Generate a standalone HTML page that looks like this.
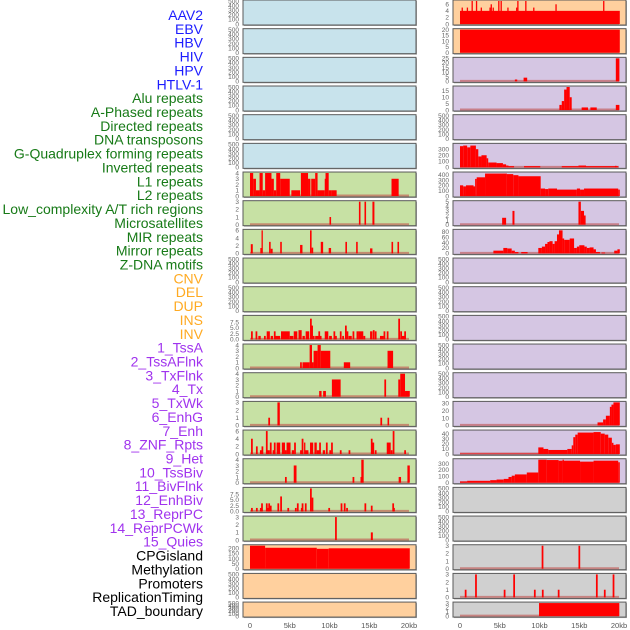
<!DOCTYPE html>
<html><head><meta charset="utf-8">
<style>
html,body{margin:0;padding:0;background:#fff;}
svg{display:block;font-family:"Liberation Sans",sans-serif;}
</style></head>
<body>
<svg id="chart" width="630" height="630" viewBox="0 0 630 630" xmlns="http://www.w3.org/2000/svg"></svg>
<script>
const rowLabels = ["AAV2","EBV","HBV","HIV","HPV","HTLV-1","Alu repeats","A-Phased repeats","Directed repeats","DNA transposons","G-Quadruplex forming repeats","Inverted repeats","L1 repeats","L2 repeats","Low_complexity A/T rich regions","Microsatellites","MIR repeats","Mirror repeats","Z-DNA motifs","CNV","DEL","DUP","INS","INV","1_TssA","2_TssAFlnk","3_TxFlnk","4_Tx","5_TxWk","6_EnhG","7_Enh","8_ZNF_Rpts","9_Het","10_TssBiv","11_BivFlnk","12_EnhBiv","13_ReprPC","14_ReprPCWk","15_Quies","CPGisland","Methylation","Promoters","ReplicationTiming","TAD_boundary"];
const labelGroups = ["v","v","v","v","v","v","r","r","r","r","r","r","r","r","r","r","r","r","r","s","s","s","s","s","c","c","c","c","c","c","c","c","c","c","c","c","c","c","c","k","k","k","k","k"];
const xTickValues = [0,5,10,15,20];
const xTickLabels = ["0","5kb","10kb","15kb","20kb"];
const leftBg = ["b","b","b","b","b","b","g","g","g","g","g","g","g","g","g","g","g","g","g","o","o","o"];
const rightBg = ["o","o","p","p","p","p","p","p","p","p","p","p","p","p","p","p","p","y","y","y","y","y"];
const E = [];
const leftSeries = [E,E,E,E,E,E,
 [[0,0.4,4],[0.4,0.75,3],[0.75,1.2,1],[1.2,1.6,4],[1.6,1.9,1],[1.9,2.7,4],[2.7,3.0,3],[3.0,3.3,1],[3.3,3.8,4],[3.8,5.0,3],[5.2,6.3,1],[6.4,7.3,4],[7.3,7.6,3],[7.7,8.2,3],[8.2,8.5,4],[8.5,9.4,1],[9.4,9.5,3],[9.5,9.9,4],[9.9,10.3,1],[10.3,10.9,1],[17.8,18.7,3]],
 [[10.0,10.2,1],[13.7,13.9,3],[14.4,14.6,3],[15.4,15.65,3]],
 [[0.1,0.35,2.4],[1.3,1.45,1.4],[1.45,1.6,6],[2.4,2.6,3],[2.6,2.85,1.2],[3.8,4.0,3],[6.3,6.6,2.2],[7.55,7.75,6],[7.75,7.95,1.5],[8.9,9.2,3],[9.9,10.2,1.4],[12.0,12.2,3],[13.35,13.55,3],[15.1,15.4,1.3],[17.8,18.0,3],[18.55,18.75,3]],
 E,E,
 [[0.13,3.5],[0.7,3.5],[1.05,1.35,1.5],[1.76,1.5],[2.1,2.5,3.5],[2.6,2.9,1.5],[3.0,3.5],[3.15,3.8,1.5],[3.9,5.0,3.5],[5.0,5.45,1.5],[5.5,5.95,3.5],[6.1,6.5,4],[6.6,6.9,1.5],[7.0,7.45,3.5],[7.55,9],[7.7,6],[7.9,1.5],[8.2,9.0,1.5],[8.6,3.5],[9.4,9.85,3.5],[9.95,10.3,1.5],[10.5,3.5],[10.7,1.5],[11.3,3.5],[11.6,1.5],[11.95,6],[12.15,3.5],[12.4,12.8,1.5],[12.9,3.5],[13.4,3.5],[13.6,14.25,3.5],[14.25,14.5,1.5],[15.1,15.4,3.5],[15.45,4],[15.7,3.5],[16.35,16.8,1.5],[16.8,3.5],[17.2,3.5],[18.65,9],[18.9,3.5],[19.1,19.5,1.5],[19.4,3.5]],
 [[6.3,1],[6.6,7.5,1],[7.5,7.8,4],[7.8,8.0,1],[8.0,8.5,3],[8.5,8.9,4],[8.9,10.1,3],[11.8,12.6,1],[17.3,18.0,3]],
 [[8.7,9.0,1],[9.2,9.55,1],[10.3,11.4,3],[16.9,3],[18.65,18.9,3],[18.9,19.5,4],[19.5,20.1,1]],
 [[2.3,1],[3.45,3.75,3],[16.4,1],[17.3,17.5,1]],
 [[0.13,4],[0.75,2],[1.25,1],[1.45,2],[2.0,6],[2.1,2.5,1],[2.5,3],[2.85,3.15,1],[3.0,3],[3.35,3.8,3],[4.0,4.4,3],[4.4,4.6,1],[4.6,5.1,3],[5.25,5.55,1],[5.55,3],[6.3,6.7,1],[6.5,4],[6.8,6.9,3],[6.9,7.35,1],[7.55,7.95,3],[8.1,8.4,3],[8.4,8.8,1],[8.7,3],[9.15,9.45,1],[9.55,3],[9.98,1],[10.2,3],[11.3,1],[12.4,1],[15.2,4],[15.4,3],[15.7,1],[17.2,17.7,3],[17.7,1],[17.95,6],[19.4,1]],
 [[4.4,1],[5.5,5.85,3],[12.9,1],[13.9,14.0,1],[14.0,14.3,4],[18.7,19.0,1],[19.8,20.1,3]],
 [[0.13,1.5],[0.75,1.5],[1.25,1.5],[1.4,3.5],[2.0,3.5],[2.2,1.5],[2.3,3.5],[2.5,2.5],[3.45,3.5],[3.8,6.5],[4.7,1.5],[5.65,1.5],[5.9,3.5],[6.4,1.5],[6.5,3.5],[6.9,3.5],[7.55,10],[7.75,6],[9.85,1.5],[11.4,3.5],[11.8,3.5],[12.1,1.5],[14.4,3.5],[15.2,2.5],[17.9,3.5],[18.0,1.5]],
 [[10.7,3],[15.2,15.45,1]],
 [[0,1.9,225],[1.9,8.4,205],[8.4,9.9,195],[9.9,20.1,200]],
 E,E];
const leftYMax = [500,500,500,500,500,500,4,3,6,500,500,10,4,4,3,6,4,10,3,225,500,500];
const leftTicks = [[0,100,200,300,400,500],[0,100,200,300,400,500],[0,100,200,300,400,500],[0,100,200,300,400,500],[0,100,200,300,400,500],[0,100,200,300,400,500],
 [0,1,2,3,4],[0,1,2,3],[0,2,4,6],[0,100,200,300,400,500],[0,100,200,300,400,500],["0.0","2.5","5.0","7.5"],[0,1,2,3,4],[0,1,2,3,4],[0,1,2,3],[0,2,4,6],[0,1,2,3,4],["0.0","2.5","5.0","7.5"],[0,1,2,3],[0,50,100,150,200],[0,100,200,300,400,500],[0,100,200,300,400,500]];
const rightSeries = [
 [[0,20.1,4],[0.2,0.12,5],[0.85,0.12,5],[1.45,0.12,7],[2.0,0.12,7],[2.6,0.12,5],[3.7,0.12,5],[3.85,0.12,6],[4.1,0.12,5],[4.8,0.12,7],[5.1,0.12,7],[5.95,0.12,5],[7.05,0.12,5],[7.2,0.12,7],[8.2,0.12,7],[9.2,0.12,5],[12.0,0.12,6],[18.0,0.12,7]],
 [[0,20.1,20]],
 [[6.9,7.2,2],[8.0,8.45,4],[19.6,20.05,25]],
 [[12.5,12.8,4],[12.8,13.1,7],[13.1,13.4,16],[13.4,13.8,18],[13.8,14.05,10],[15.3,16.1,2],[16.4,17.2,2],[19.6,20.05,4]],
 E,
 [[0,0.4,350],[0.4,0.9,360],[0.9,1.3,330],[1.3,2.0,360],[2.0,2.3,300],[2.3,2.7,180],[2.7,3.35,200],[3.35,3.55,150],[3.55,4.6,80],[4.6,5.4,70],[5.4,5.8,50],[5.8,6.1,30],[6.1,6.8,20],[8.05,10.1,20],[12.8,14.9,20],[14.9,15.85,30],[15.85,19.9,20],[19.5,19.7,25]],
 [[0,0.4,200],[0.4,0.75,180],[0.75,1.7,200],[1.7,1.9,180],[1.9,2.1,320],[2.1,3.15,350],[3.15,5.9,420],[5.9,6.7,410],[6.7,7.35,390],[7.35,10.15,370],[10.15,10.7,140],[10.7,11.1,130],[11.1,12.2,140],[12.2,14.7,120],[14.7,15.1,140],[15.1,15.6,120],[15.6,19.9,140],[19.9,20.1,120]],
 [[5.3,5.8,1.5],[6.6,6.85,3],[14.9,15.2,5],[15.2,15.6,3],[15.6,15.8,2]],
 [[4.2,5.45,10],[5.45,5.95,20],[5.95,6.5,18],[6.5,6.9,10],[6.9,7.35,5],[7.7,8.5,5],[9.85,10.3,20],[10.3,10.7,25],[10.7,11.0,35],[11.0,11.25,42],[11.25,11.65,45],[11.65,11.9,35],[11.9,12.2,45],[12.2,12.45,70],[12.45,12.9,85],[12.9,13.1,55],[13.1,13.8,50],[13.8,14.35,55],[14.35,14.7,20],[14.7,15.0,25],[15.0,15.65,30],[15.65,15.95,25],[15.95,16.3,20],[16.3,16.8,22],[16.8,17.1,15],[17.1,17.6,5],[17.8,18.25,3],[19.4,19.8,10],[19.8,20.1,15]],
 E,E,E,E,E,
 [[17.3,18.0,4],[18.0,18.35,8],[18.35,18.85,13],[18.85,19.05,25],[19.05,19.3,28],[19.3,20.1,31]],
 [[0,9.85,1],[9.85,10.5,13],[10.5,11.1,10],[11.1,13.5,8],[13.5,14.05,10],[14.05,14.25,17],[14.25,14.5,33],[14.5,14.8,38],[14.8,16.8,42],[16.8,17.7,43],[17.7,18.2,40],[18.2,18.65,38],[18.65,19.1,32],[19.1,19.3,22],[19.3,19.6,18],[19.6,20.1,19]],
 [[0,0.9,20],[0.9,3.8,30],[3.8,4.6,40],[4.6,5.5,50],[5.5,6.1,60],[6.1,6.5,90],[6.5,6.9,110],[6.9,8.4,130],[8.4,9.85,160],[9.85,10.9,360],[10.9,12.4,355],[12.4,12.9,345],[12.9,13.0,360],[13.0,15.1,345],[15.1,16.8,330],[16.8,19.9,345],[19.9,20.1,320]],
 E,E,
 [[10.27,3],[14.9,3]],
 [[0.6,1],[1.9,3],[5.5,1],[6.7,3],[9.3,1],[10.3,1],[12.3,1],[17.1,3],[18.1,1],[19.2,3]],
 [[9.94,20.04,3]]];
const rightYMax = [7,20,25,18,500,380,430,5,85,500,500,500,500,500,31,45,360,500,500,3,3,3];
const rightTicks = [[0,2,4,6],[0,5,10,15,20],[0,5,10,15,20,25],[0,5,10,15],[0,100,200,300,400,500],[0,100,200,300],[0,100,200,300,400],[0,1,2,3,4,5],[0,20,40,60,80],
 [0,100,200,300,400,500],[0,100,200,300,400,500],[0,100,200,300,400,500],[0,100,200,300,400,500],[0,100,200,300,400,500],
 [0,10,20,30],[0,10,20,30,40],[0,100,200,300],[0,100,200,300,400,500],[0,100,200,300,400,500],[0,1,2,3],[0,1,2,3],[0,1,2,3]];

const NS = "http://www.w3.org/2000/svg";
const svg = document.getElementById("chart");
const labelColor = {v:"#1c1cff",r:"#177a17",s:"#ffaa22",c:"#a033ee",k:"#000"};
const bgColor = {b:"#c8e3ec",g:"#c7e1a4",o:"#ffd09e",p:"#d5c6e3",y:"#d0d0d0"};
function mk(tag, attrs, parent){const e=document.createElementNS(NS,tag);for(const k in attrs)e.setAttribute(k,attrs[k]);(parent||svg).appendChild(e);return e;}
function rowTop(i){return i*28.67;}
function rowH(i){return i===21?15:25;}
function xScale(col,kb){return (col===0?250:460)+kb*7.95;}

// labels
rowLabels.forEach((t,i)=>{
  const el = mk("text",{x:203,y:(15+i*13.86+5).toFixed(1),"text-anchor":"end","font-size":"14",fill:labelColor[labelGroups[i]]});
  el.textContent=t;
  
  
});

function drawPanel(col,i,series,ymax,ticks,bg){
  const g = mk("g",{});
  
  
  const px = col===0?243:453, pw=173, top=rowTop(i), h=rowH(i);
  mk("rect",{x:px+1,y:top+1,width:pw,height:h,fill:"#aaa"},g);
  mk("rect",{x:px,y:top,width:pw,height:h,fill:bgColor[bg],stroke:"#5a5a5a","stroke-width":1},g);
  const y0 = top+h-1, yTop = top+1;
  const yS = v => y0 - (v/ymax)*(y0-yTop);
  if(series.length){
    const bl = mk("line",{x1:xScale(col,0),x2:xScale(col,20),y1:y0-0.5,y2:y0-0.5,stroke:"#c0504d","stroke-width":2,"stroke-opacity":0.6},g);
    
    
  }
  series.forEach(s=>{
    let a,b,v;
    if(s.length===2){a=s[0];b=s[0]+0.22;v=s[1];}
    else if(col===1&&i===0&&s[1]<1){a=s[0];b=s[0]+s[1];v=s[2];}
    else {a=s[0];b=s[1];v=s[2];}
    const x1=xScale(col,a), x2=Math.max(xScale(col,b),x1+1.3);
    const yy=yS(v);
    const r = mk("rect",{x:x1.toFixed(2),y:yy.toFixed(2),width:(x2-x1).toFixed(2),height:(y0-yy).toFixed(2),fill:"#ff0000"},g);
    
    
  });
  ticks.forEach(t=>{
    const v = parseFloat(t);
    const tx = mk("text",{x:px-4,y:(yS(v)+2.3).toFixed(1),"text-anchor":"end","font-size":"6.5",fill:"#666"},g);
    tx.textContent = String(t);
    
    
  });
}
for(let i=0;i<22;i++){
  drawPanel(0,i,leftSeries[i],leftYMax[i],leftTicks[i],leftBg[i]);
  drawPanel(1,i,rightSeries[i],rightYMax[i],rightTicks[i],rightBg[i]);
}
[0,1].forEach(col=>{
  xTickValues.forEach((v,k)=>{
    const t = mk("text",{x:xScale(col,v).toFixed(1),y:628,"text-anchor":"middle","font-size":"7.5",fill:"#555"});
    t.textContent = xTickLabels[k];
    
    
  });
});
</script>
</body></html>
